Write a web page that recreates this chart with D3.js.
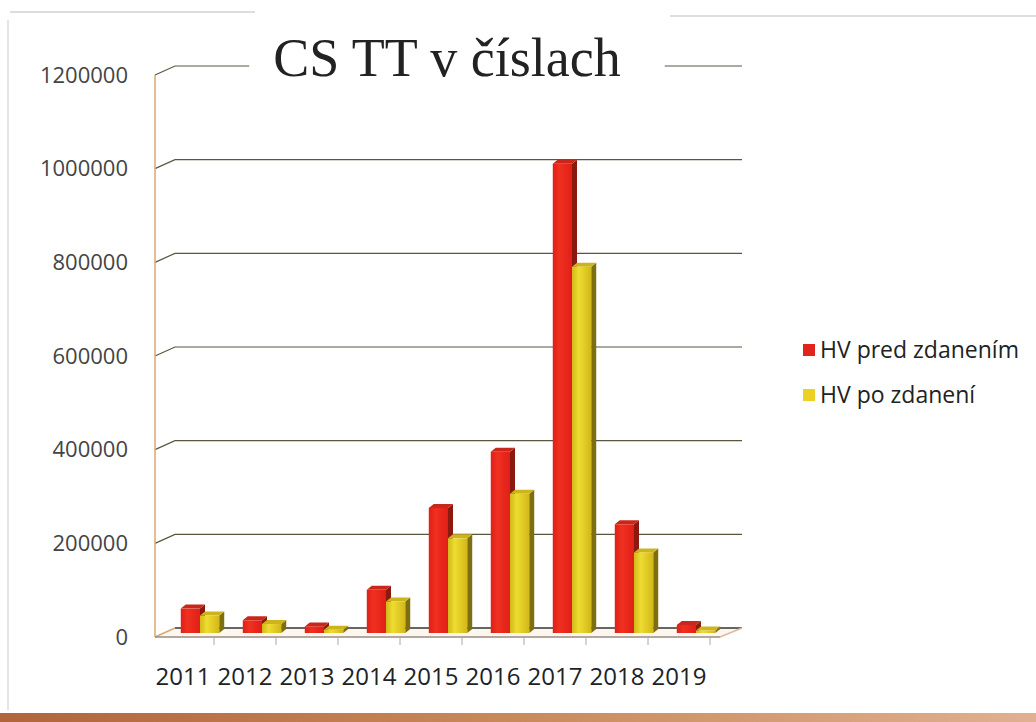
<!DOCTYPE html>
<html><head><meta charset="utf-8">
<script src="https://cdn.jsdelivr.net/npm/d3@7"></script>
<style>body{margin:0;background:#fff}svg{display:block}</style>
</head><body>
<svg id="c" width="1036" height="722"></svg>
<script>
const years = ["2011","2012","2013","2014","2015","2016","2017","2018","2019"];
const predZdanenim = [50000,25000,12000,90000,265000,385000,1000000,230000,15000];
const poZdaneni = [35000,17000,5000,65000,200000,295000,780000,170000,3000];
const seriesNames = ["HV pred zdanením","HV po zdanení"];
const yTicks = [0,200000,400000,600000,800000,1000000,1200000];
const title = "CS TT v číslach";

const svg = d3.select("#c");
const defs = svg.append("defs");
const DX = 20, DY = -9;     // wall depth
const BX = 5, BY = -4;      // bar depth
const y = d3.scaleLinear().domain([0,1200000]).range([637,75]);
const x = d3.scaleBand().domain(years).range([169,727]).paddingInner(0.38).paddingOuter(0.19);
const sub = d3.scaleBand().domain(seriesNames).range([0,x.bandwidth()]);
const colors = {
  "HV pred zdanením": {id:"gr", a:"#f0301f", b:"#e01f18", side:"#8a1a10", top:"#c8281c", leg:"#e0261c"},
  "HV po zdanení":    {id:"gy", a:"#eedc30", b:"#d2b81a", side:"#7d6f10", top:"#cdb41c", leg:"#ecd024"}
};
Object.values(colors).forEach(c => {
  const lg = defs.append("linearGradient").attr("id",c.id).attr("x1","0").attr("x2","1");
  lg.append("stop").attr("offset","0").attr("stop-color",c.b);
  lg.append("stop").attr("offset","0.35").attr("stop-color",c.a);
  lg.append("stop").attr("offset","1").attr("stop-color",c.b);
});

// scan frame artifacts
svg.append("line").attr("x1",10).attr("x2",255).attr("y1",12).attr("y2",12).attr("stroke","#ddd").attr("stroke-width",2);
svg.append("line").attr("x1",670).attr("x2",1036).attr("y1",16).attr("y2",16).attr("stroke","#ddd").attr("stroke-width",2);
svg.append("line").attr("x1",8).attr("x2",8).attr("y1",20).attr("y2",710).attr("stroke","#e4e4e4").attr("stroke-width",2);
const grad = defs.append("linearGradient").attr("id","bot").attr("x1","0").attr("x2","1");
grad.append("stop").attr("offset","0").attr("stop-color","#b0653a");
grad.append("stop").attr("offset","0.5").attr("stop-color","#c98a5a");
grad.append("stop").attr("offset","1").attr("stop-color","#e0b090");
svg.append("rect").attr("x",0).attr("y",713).attr("width",1036).attr("height",9).attr("fill","url(#bot)");

// gridlines (side wall diagonal + back wall)
const g = svg.append("g");
yTicks.forEach(t => {
  if (t === 0) return;
  const yy = y(t);
  g.append("path")
   .attr("d", `M155,${yy}L${155+DX},${yy+DY}L742,${yy+DY}`)
   .attr("fill","none").attr("stroke","#5b5640").attr("stroke-width",1.2);
});
// left axis
g.append("line").attr("x1",155).attr("x2",155).attr("y1",y(1200000)).attr("y2",y(0))
 .attr("stroke","#d9a872").attr("stroke-width",1.5);
// floor
g.append("path").attr("d",`M155,${y(0)}L${155+DX},${y(0)+DY}L742,${y(0)+DY}L720,${y(0)}Z`)
 .attr("fill","#fbf7ef").attr("stroke","none");
g.append("line").attr("x1",155+DX).attr("x2",742).attr("y1",y(0)+DY).attr("y2",y(0)+DY).attr("stroke","#333").attr("stroke-width",1.5);
g.append("line").attr("x1",155).attr("x2",155+DX).attr("y1",y(0)).attr("y2",y(0)+DY).attr("stroke","#d9a872").attr("stroke-width",1.5);
g.append("line").attr("x1",720).attr("x2",742).attr("y1",y(0)).attr("y2",y(0)+DY).attr("stroke","#e0b8a0").attr("stroke-width",1.5);
g.append("line").attr("x1",155).attr("x2",720).attr("y1",y(0)).attr("y2",y(0)).attr("stroke","#9a8a80").attr("stroke-width",1.5);
// front ticks at category boundaries
years.forEach((yr,i) => {
  const bx = x(yr) + x.bandwidth() + x.step()*x.paddingInner()/2 - 17;
  g.append("line").attr("x1",bx).attr("x2",bx).attr("y1",y(0)).attr("y2",y(0)+8).attr("stroke","#aaa").attr("stroke-width",1);
});

// bars
const base = y(0) - 4;
const bars = svg.append("g");
years.forEach((yr,i) => {
  [[seriesNames[0], predZdanenim[i]],[seriesNames[1], poZdaneni[i]]].forEach(([s,v]) => {
    const x0 = x(yr) + sub(s), w = sub.bandwidth();
    const top = y(v) - 5;
    const c = colors[s];
    bars.append("path").attr("d",`M${x0+w},${base}L${x0+w+BX},${base+BY}L${x0+w+BX},${top+BY}L${x0+w},${top}Z`).attr("fill",c.side);
    bars.append("path").attr("d",`M${x0},${top}L${x0+BX},${top+BY}L${x0+w+BX},${top+BY}L${x0+w},${top}Z`).attr("fill",c.top);
    bars.append("rect").attr("x",x0).attr("y",top).attr("width",w).attr("height",Math.max(0,base-top)).attr("fill",`url(#${c.id})`);
  });
});

// y axis labels
svg.append("g").selectAll("text").data(yTicks).join("text")
  .attr("x",128).attr("y",d=>y(d)).attr("dy","0.35em").attr("text-anchor","end")
  .attr("font-family","'Open Sans', 'Liberation Sans', sans-serif").attr("font-size",22).attr("fill","#444")
  .text(d=>d);
// x labels
svg.append("g").selectAll("text").data(years).join("text")
  .attr("x",d=>x(d)+x.bandwidth()/2-17).attr("y",685).attr("text-anchor","middle")
  .attr("font-family","'Open Sans', 'Liberation Sans', sans-serif").attr("font-size",24).attr("fill","#222")
  .text(d=>d);

// title with white mask
const tg = svg.append("g");
const mask = tg.append("rect").attr("fill","#fff");
const tt = tg.append("text").attr("x",447).attr("y",76).attr("text-anchor","middle")
  .attr("font-family","'Liberation Serif', 'DejaVu Serif', serif").attr("font-size",54).attr("fill","#222").text(title);
const bb = tt.node().getBBox();
mask.attr("x",bb.x-24).attr("y",bb.y).attr("width",bb.width+68).attr("height",bb.height);

// legend
const leg = svg.append("g");
seriesNames.forEach((s,i) => {
  const ly = 350 + i*45;
  leg.append("rect").attr("x",803).attr("y",ly-6).attr("width",12).attr("height",12).attr("fill",colors[s].leg);
  leg.append("text").attr("x",820).attr("y",ly).attr("dy","0.35em")
    .attr("font-family","'Open Sans', 'Liberation Sans', sans-serif").attr("font-size",23).attr("fill","#222").text(s);
});
</script>
</body></html>
